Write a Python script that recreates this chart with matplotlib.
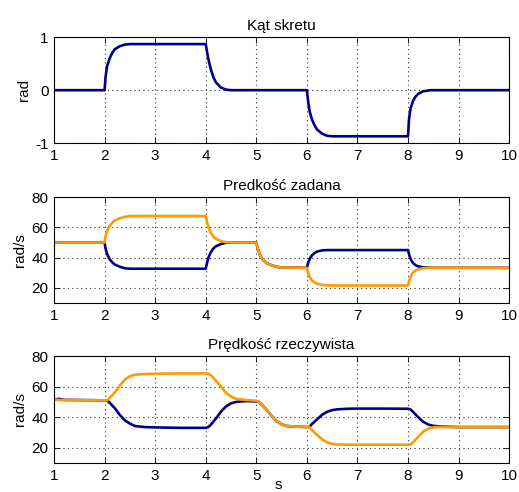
import matplotlib
matplotlib.use("Agg")
import matplotlib.pyplot as plt

plt.rcParams['font.family'] = ['Liberation Sans', 'DejaVu Sans']
plt.rcParams['font.size'] = 11
plt.rcParams['axes.unicode_minus'] = False

BLUE = '#00008C'
ORANGE = '#FF9A00'

# --- Steering angle [rad] ---
t_angle = [1.0, 2.0, 2.02, 2.05, 2.1, 2.15, 2.2, 2.3, 2.4, 2.5, 4.0,
           4.05, 4.1, 4.15, 4.2, 4.3, 4.4, 4.5, 6.0,
           6.03, 6.06, 6.1, 6.15, 6.2, 6.3, 6.4, 6.5, 8.0,
           8.02, 8.05, 8.1, 8.15, 8.2, 8.3, 8.45, 10.0]
angle = [0.0, 0.0, 0.25, 0.45, 0.6, 0.7, 0.77, 0.83, 0.86, 0.87, 0.87,
         0.6, 0.4, 0.25, 0.15, 0.05, 0.01, 0.0, 0.0,
         -0.25, -0.42, -0.55, -0.66, -0.74, -0.82, -0.86, -0.87, -0.87,
         -0.55, -0.35, -0.2, -0.12, -0.07, -0.02, 0.0, 0.0]

# --- Commanded wheel speeds [rad/s] ---
t_set = [1.0, 2.0, 2.02, 2.05, 2.1, 2.15, 2.2, 2.3, 2.4, 2.5, 4.0,
         4.03, 4.06, 4.1, 4.15, 4.2, 4.3, 4.4, 4.5, 5.0,
         5.03, 5.06, 5.1, 5.15, 5.2, 5.3, 5.4, 5.5, 6.0,
         6.03, 6.06, 6.1, 6.15, 6.2, 6.3, 6.4, 6.5, 8.0,
         8.03, 8.06, 8.1, 8.15, 8.2, 8.3, 8.4, 8.5, 10.0]
set_left = [50, 50, 46, 42.5, 39, 37, 35.5, 34, 33, 32.7, 32.7,
            37, 40.5, 43.5, 46, 47.5, 49, 49.8, 50, 50,
            46, 43, 40, 38, 36.5, 35, 34, 33.5, 33.3,
            37, 39.5, 41.5, 43, 44, 44.8, 45, 45, 45,
            41, 38.5, 36.5, 35, 34.3, 33.6, 33.4, 33.3, 33.3]
set_right = [50, 50, 54, 57.5, 61, 63, 64.5, 66, 67, 67.5, 67.5,
             63, 59.5, 56.5, 54, 52.5, 51, 50.2, 50, 50,
             46, 43, 40, 38, 36.5, 35, 34, 33.5, 33.3,
             29.5, 27, 25, 23.7, 22.8, 22, 21.7, 21.6, 21.6,
             25.5, 28, 30, 31.5, 32.3, 33, 33.2, 33.3, 33.3]

# --- Measured wheel speeds [rad/s] ---
t_act = [1.0, 1.1, 1.2, 2.0, 2.05, 2.1, 2.2, 2.3, 2.4, 2.5, 2.6, 2.8, 3.0, 3.5, 4.0,
         4.05, 4.1, 4.2, 4.3, 4.4, 4.5, 4.6, 4.8, 5.0,
         5.05, 5.1, 5.2, 5.3, 5.4, 5.5, 5.6, 5.8, 6.0,
         6.05, 6.1, 6.2, 6.3, 6.4, 6.5, 6.6, 6.8, 7.0, 7.5, 8.0,
         8.05, 8.1, 8.2, 8.3, 8.4, 8.5, 8.6, 8.8, 9.0, 10.0]
act_left = [51.5, 52, 51.3, 51, 51, 49.5, 46, 41.5, 38, 35.8, 34.2, 33.5, 33.3, 33.0, 33.0,
            33.5, 35, 39, 43.5, 47, 49, 50, 50.5, 50.3,
            50, 48.5, 45, 41, 37.5, 35.3, 34.2, 33.8, 33.5,
            33.5, 35.5, 38.5, 41.5, 43.5, 44.6, 45.1, 45.5, 45.6, 45.6, 45.5,
            45, 43.5, 40, 37, 35.2, 34.3, 34, 33.7, 33.5, 33.5]
act_right = [51.5, 51.3, 51.2, 51, 51, 52.5, 56, 60.5, 64.5, 66.8, 67.8, 68.2, 68.4, 68.6, 68.6,
             68.5, 67.5, 64, 60, 56, 53.5, 52, 51.2, 50.8,
             50, 48.5, 45, 41, 37.5, 35.3, 34.2, 33.8, 33.5,
             33.5, 31.5, 28.5, 25.5, 23.5, 22.5, 22.1, 22, 22, 22, 22,
             22.2, 23.5, 27, 30.5, 32.5, 33.3, 33.6, 33.5, 33.5, 33.5]

x_ticks = list(range(1, 11))

fig = plt.figure(figsize=(5.19, 4.92), dpi=100)
ax1 = fig.add_axes([0.104, 0.709, 0.877, 0.2154])
ax2 = fig.add_axes([0.104, 0.384, 0.877, 0.2154])
ax3 = fig.add_axes([0.104, 0.0589, 0.877, 0.2175])


def style(ax, title, ylabel, ylim, yticks):
    ax.set_xlim(1, 10)
    ax.set_ylim(*ylim)
    ax.set_xticks(x_ticks)
    ax.set_yticks(yticks)
    ax.set_title(title, fontsize=11, pad=5)
    ax.set_ylabel(ylabel, labelpad=3)
    ax.grid(True, linestyle=(0, (1, 3)), color='#333333', linewidth=0.8)
    ax.tick_params(direction='in', top=True, right=True, length=4, width=0.6,
                   labelsize=11, pad=4)
    for s in ax.spines.values():
        s.set_linewidth(0.8)


ax1.plot(t_angle, angle, color=BLUE, lw=1.9)
style(ax1, 'Kąt skretu', 'rad', (-1, 1), [-1, 0, 1])

ax2.plot(t_set, set_left, color=BLUE, lw=1.9)
ax2.plot(t_set, set_right, color=ORANGE, lw=1.9)
style(ax2, 'Predkość zadana', 'rad/s', (10, 80), [20, 40, 60, 80])

ax3.plot(t_act, act_left, color=BLUE, lw=1.9)
ax3.plot(t_act, act_right, color=ORANGE, lw=1.9)
style(ax3, 'Prędkość rzeczywista', 'rad/s', (10, 80), [20, 40, 60, 80])

fig.text(0.536, 0.001, 's', ha='center', va='bottom', fontsize=11)

fig.savefig('out.png', dpi=100)
